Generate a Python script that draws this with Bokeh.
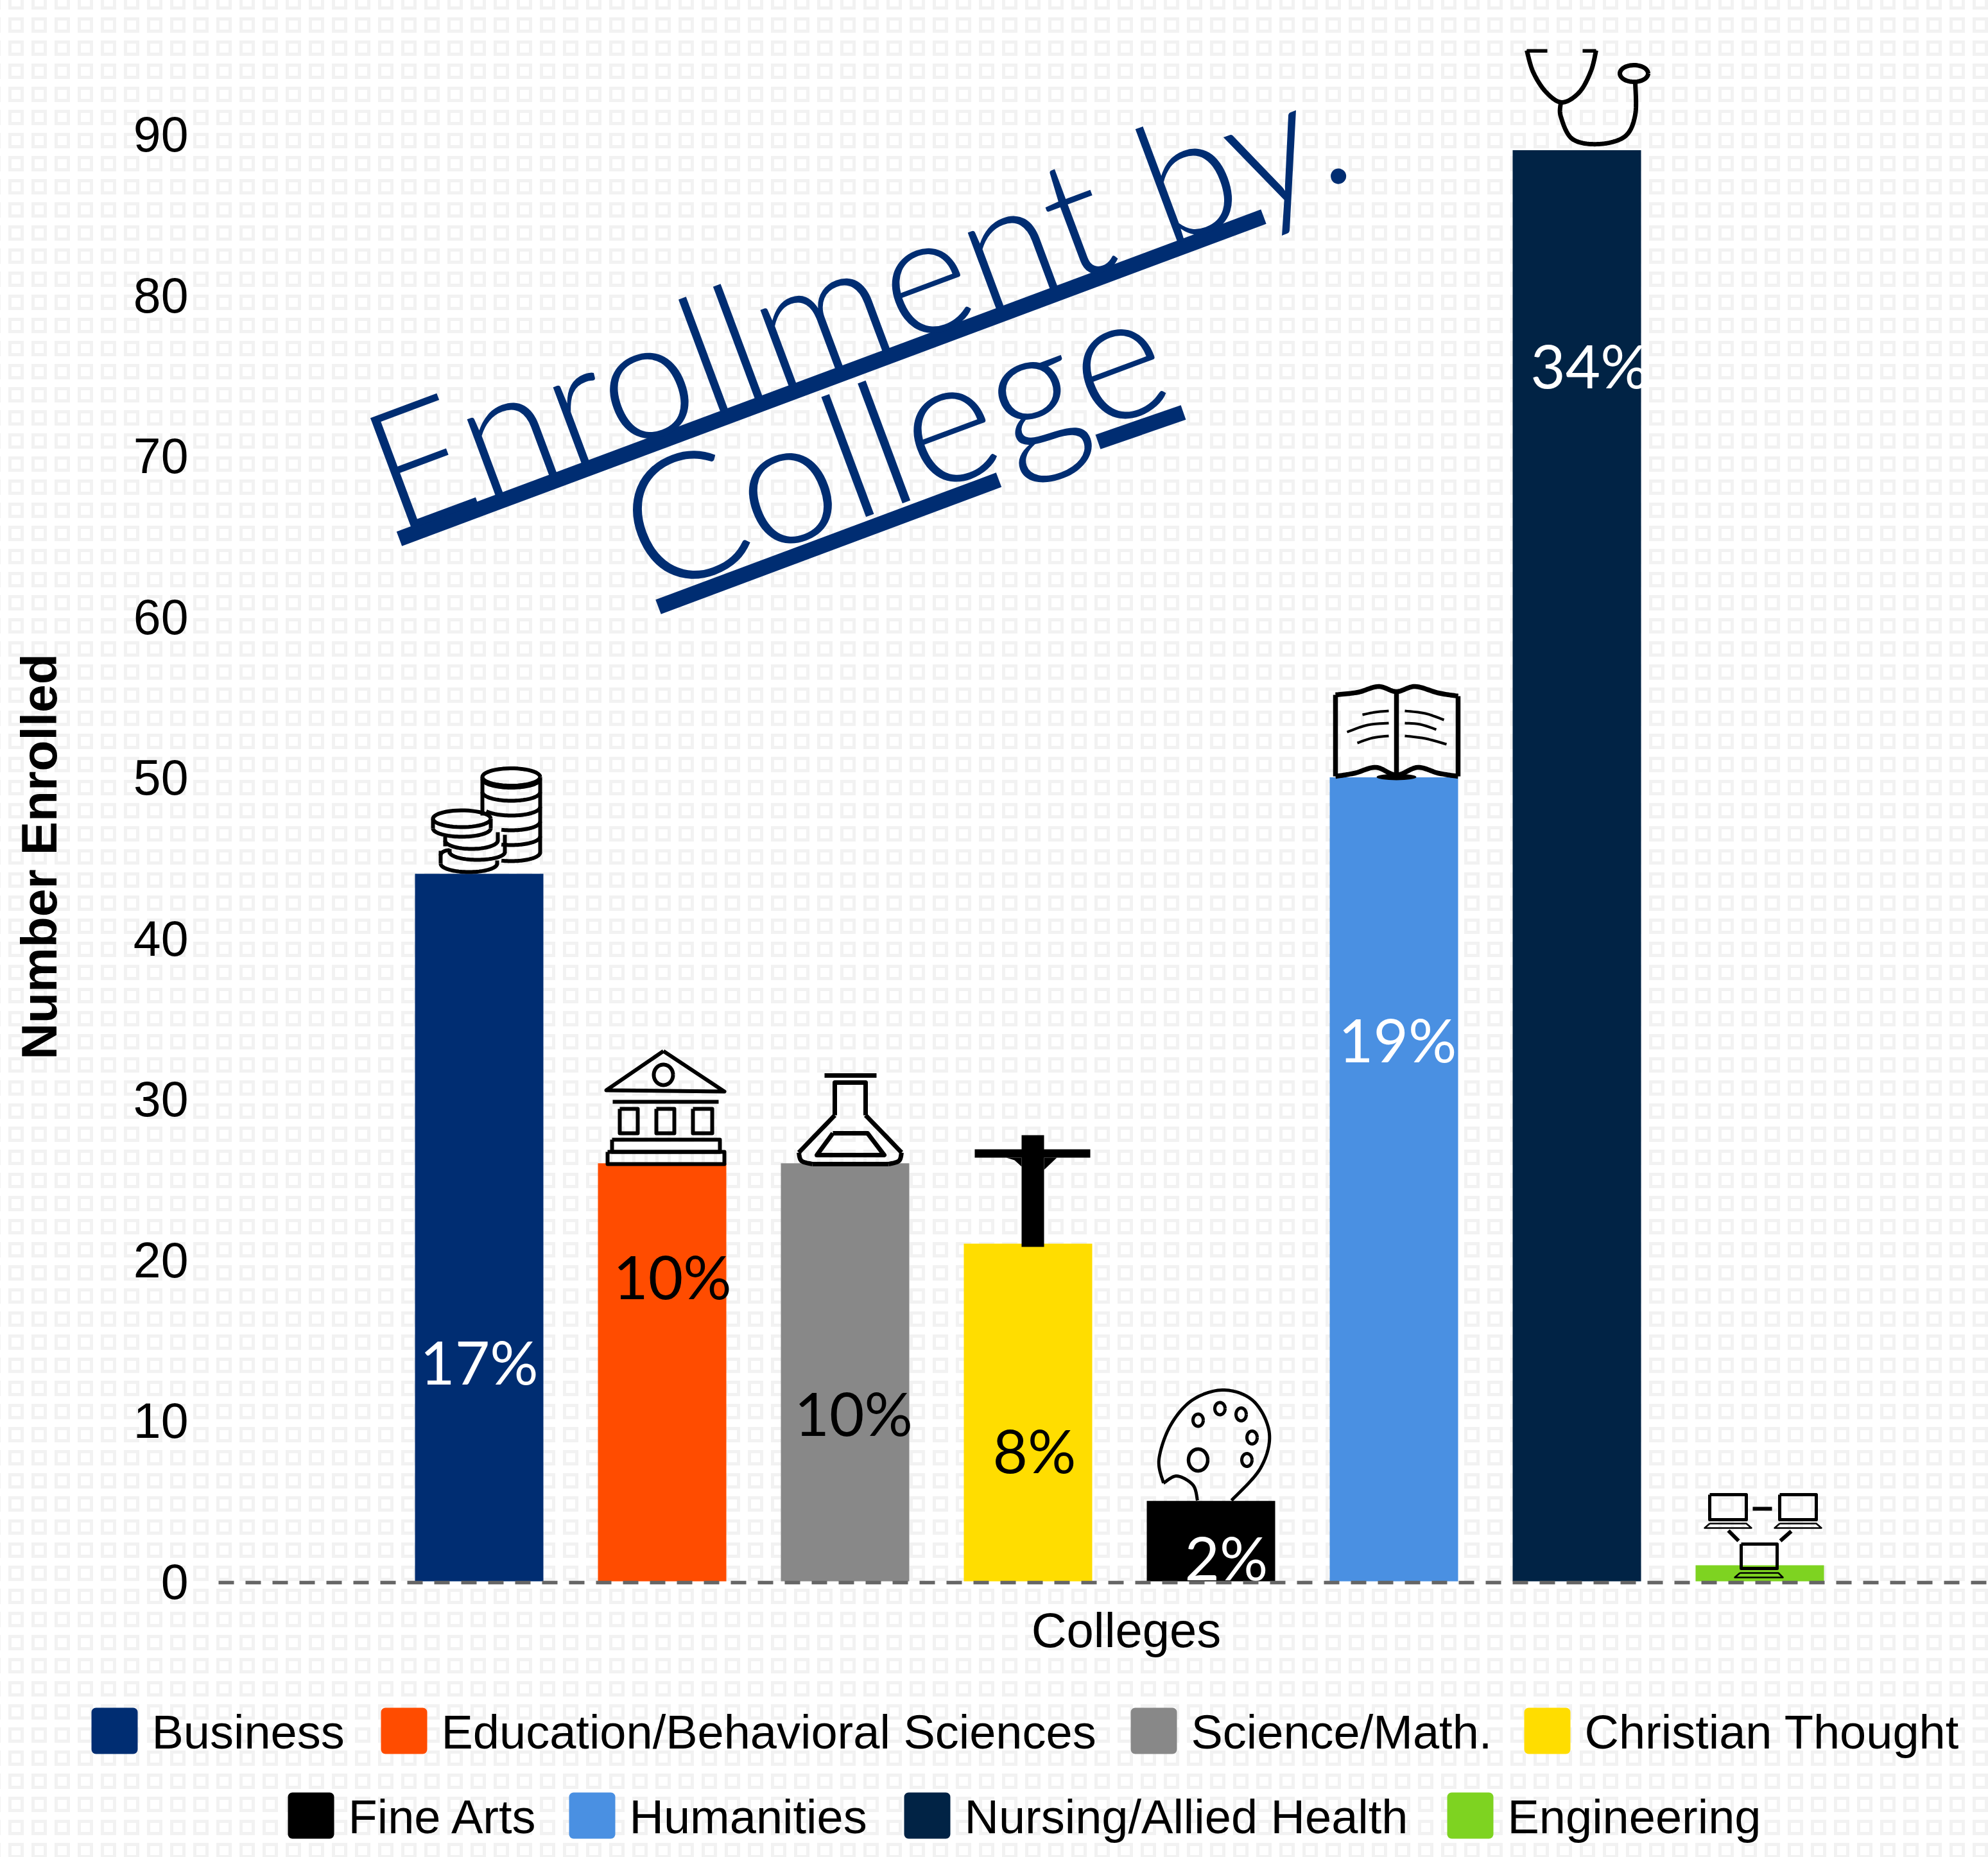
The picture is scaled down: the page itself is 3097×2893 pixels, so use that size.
import numpy as np
from bokeh.plotting import figure
from bokeh.embed import file_html
from bokeh.resources import INLINE
from bokeh.core.properties import value
from bokeh.models import Range1d, FixedTicker, Label

# ---- data -----------------------------------------------------------
colleges = ["Business", "Education/Behavioral Sciences", "Science/Math.", "Christian Thought",
            "Fine Arts", "Humanities", "Nursing/Allied Health", "Engineering"]
enrolled = [44, 26, 26, 21, 5, 50, 89, 1]
colors = ["#002D72", "#FF4C00", "#888888", "#FFDD00", "#000000", "#4A90E2", "#012345", "#7ED321"]
percent_labels = ["17%", "10%", "10%", "8%", "2%", "19%", "34%"]
percent_colors = ["white", "black", "black", "black", "white", "white", "white"]
percent_heights = [13.7, 19.0, 10.5, 8.2, 1.5, 33.75, 75.65]
percent_x = [0.0, 1.056, 2.046, 3.035, 4.084, 5.02, 6.07]
y_ticks = [0, 10, 20, 30, 40, 50, 60, 70, 80, 90]
title_lines = ["Enrollment by.", "College"]
x_title = "Colleges"
y_title = "Number Enrolled"
legend_swatch_left = [142, 593, 1761, 2374, 448, 886, 1408, 2254]
legend_swatch_bottom = [2732, 2732, 2732, 2732, 2864, 2864, 2864, 2864]

W, H = 3097, 2893
F_L, F_R, F_T, F_B = 340, W, 76, 2465   # plot frame in page pixels
BAR0, STEP, BW = 746, 285, 200
PXU = 25.05
Y0 = 2463
BLUE = "#002D72"
FONT_T = "Lato Light"

p = figure(width=W, height=H, output_backend="svg", toolbar_location=None,
           x_range=Range1d((F_L - BAR0) / STEP, (F_R - BAR0) / STEP),
           y_range=Range1d((Y0 - F_B) / PXU, (Y0 - F_T) / PXU),
           min_border_left=F_L, min_border_right=0,
           min_border_top=F_T, min_border_bottom=H - F_B)
p.extra_x_ranges["px"] = Range1d(F_L, F_R)
p.extra_y_ranges["px"] = Range1d(F_B, F_T)
p.border_fill_color = None
p.background_fill_color = None
p.outline_line_color = None
p.xgrid.visible = False
p.ygrid.visible = False

ax = p.xaxis[0]
ax.ticker = FixedTicker(ticks=[])
ax.major_label_text_font_size = "0px"
ax.major_tick_line_color = None
ax.minor_tick_line_color = None
ax.axis_line_color = "#666666"
ax.axis_line_width = 5.5
ax.axis_line_dash = "24 18"

ay = p.yaxis[0]
ay.ticker = FixedTicker(ticks=y_ticks)
ay.axis_line_color = None
ay.major_tick_line_color = None
ay.minor_tick_line_color = None
ay.major_label_standoff = 41
ay.major_label_text_font = "Liberation Sans"
ay.major_label_text_font_size = "77px"
ay.major_label_text_color = "black"

# ---- bars -----------------------------------------------------------
for i, (v, c) in enumerate(zip(enrolled, colors)):
    p.vbar(x=[i], top=[v], bottom=0, width=BW / STEP, fill_color=c, line_color=None)

# ---- icons (decorative line art, drawn in page pixels) ----------------
PX = dict(x_range_name="px", y_range_name="px")

def arc(cx, cy, rx, ry, a0=0, a1=360):
    t = np.radians(np.linspace(a0, a1, 48))
    return list(cx + rx * np.cos(t)), list(cy + ry * np.sin(t))

def smooth(pts, n=14):
    P = np.array([pts[0]] + list(pts) + [pts[-1]], dtype=float)
    out = []
    for k in range(1, len(P) - 2):
        for t in np.linspace(0, 1, n, endpoint=False):
            out.append(0.5 * ((2 * P[k]) + (-P[k-1] + P[k+1]) * t
                              + (2*P[k-1] - 5*P[k] + 4*P[k+1] - P[k+2]) * t*t
                              + (-P[k-1] + 3*P[k] - 3*P[k+1] + P[k+2]) * t*t*t))
    out.append(P[-2])
    out = np.array(out)
    return list(out[:, 0]), list(out[:, 1])

def poly(pts, close=False):
    pts = list(pts) + ([pts[0]] if close else [])
    return [a for a, _ in pts], [b for _, b in pts]

def box(x0, y0, x1, y1):
    return poly([(x0, y0), (x1, y0), (x1, y1), (x0, y1)], close=True)

def draw(paths, width):
    p.multi_line([a for a, _ in paths], [b for _, b in paths], line_color="black",
                 line_width=width, line_join="round", **PX)

def fill(paths):
    p.patches([a for a, _ in paths], [b for _, b in paths], fill_color="black", line_color=None, **PX)

# coins
coins = [arc(796, 1210, 45, 13.5)]
coins += [poly([(751, 1210), (751, 1270)]), poly([(841, 1210), (841, 1328)])]
for b, end in [(1226.5, 180), (1247, 180), (1270, 150), (1293, 110), (1316, 110), (1341, 110)]:
    coins.append(arc(796, b - 13.5, 45, 13.5, 0, end))
coins.append(arc(719, 1275, 45, 13))
coins += [poly([(674, 1275), (674, 1290)]), poly([(764, 1275), (764, 1290)])]
coins.append(arc(719, 1290, 45, 13, 0, 180))
coins += [poly([(693, 1303), (693, 1318)]), poly([(775, 1296), (775, 1310)])]
coins.append(arc(734, 1309, 41, 13, 0, 180))
coins += [poly([(700, 1322), (700, 1330)]), poly([(786, 1300), (786, 1328)])]
coins.append(arc(743, 1327, 43, 12, 0, 180))
coins += [poly([(686, 1325), (686, 1345)]), poly([(774, 1340), (774, 1346)])]
coins.append(arc(730, 1345, 44, 13, 0, 180))
coins.append(arc(700, 1332, 14, 8, 180, 270))
draw(coins, 6)

# building
bld = [poly([(1033, 1637), (1128, 1700), (944, 1698)], close=True),
       arc(1033, 1674, 15, 16),
       poly([(954, 1716), (1119, 1716)]),
       box(965, 1727, 993, 1765), box(1022, 1727, 1050, 1765), box(1079, 1727, 1109, 1765),
       box(953, 1775, 1121, 1794), box(946, 1794, 1128, 1813)]
draw(bld, 6)

# flask
fl = [poly([(1284, 1675), (1365, 1675)]),
      poly([(1300, 1737), (1300, 1686), (1348, 1686), (1348, 1737)]),
      smooth([(1300, 1737), (1268, 1770), (1244, 1795)], 6),
      smooth([(1348, 1737), (1380, 1770), (1404, 1795)], 6),
      smooth([(1244, 1795), (1248, 1808), (1265, 1813)], 6),
      smooth([(1404, 1795), (1400, 1808), (1384, 1813)], 6),
      poly([(1265, 1813), (1384, 1813)]),
      poly([(1297, 1765), (1351, 1765), (1377, 1799), (1272, 1799)], close=True)]
draw(fl, 7)

# crucifix
fill([box(1591, 1768, 1626, 1942), box(1518, 1790, 1698, 1803),
      poly([(1567, 1803), (1580, 1807), (1591, 1817), (1591, 1803)], close=True),
      poly([(1646, 1803), (1626, 1822), (1626, 1803)], close=True)])

# palette
pal_out = [smooth([(1865, 2337), (1858, 2313), (1833, 2299), (1812, 2310)]),
           smooth([(1812, 2310), (1805, 2273), (1823, 2220), (1858, 2180), (1907, 2165),
                   (1953, 2183), (1977, 2233), (1963, 2287), (1918, 2337)])]
draw(pal_out, 5)
draw([arc(1866, 2274, 15, 17)], 5.5)
draw([arc(1866, 2212, 8, 9.5), arc(1900, 2194, 8, 9.5), arc(1933, 2203, 8, 10),
      arc(1950, 2239, 8, 10), arc(1942, 2274, 8, 10)], 5)

# book
book = [smooth([(2080, 1082), (2115, 1078), (2147, 1069), (2175, 1077), (2204, 1069), (2240, 1079), (2271, 1084)]),
        smooth([(2080, 1209), (2110, 1204), (2143, 1195), (2175, 1207), (2208, 1195), (2240, 1204), (2271, 1209)]),
        poly([(2080, 1082), (2080, 1209)]), poly([(2271, 1084), (2271, 1209)]),
        poly([(2175, 1077), (2175, 1207)])]
draw(book, 7.5)
draw([smooth([(2122, 1113), (2142, 1109), (2163, 1107)], 6), smooth([(2098, 1140), (2130, 1129), (2163, 1126)], 6),
      smooth([(2114, 1157), (2138, 1149), (2163, 1146)], 6), smooth([(2188, 1107), (2220, 1111), (2249, 1121)], 6),
      smooth([(2188, 1126), (2212, 1128), (2237, 1136)], 6), smooth([(2188, 1146), (2220, 1150), (2253, 1159)], 6)], 4)
p.ellipse([2175], [1210], width=62, height=10, fill_color="black", line_color=None, **PX)

# stethoscope
st = [poly([(2378, 78), (2410, 78)]), poly([(2465, 78), (2486, 78)]),
      smooth([(2378, 78), (2388, 112), (2408, 143), (2433, 159), (2460, 143), (2478, 110), (2486, 78)]),
      smooth([(2431, 159), (2431, 181), (2449, 216), (2490, 224), (2531, 212), (2547, 178), (2547, 128)]),
      arc(2545, 114, 22, 13)]
draw(st, 7)

# laptops
lap = [box(2663, 2328, 2720, 2367), box(2772, 2328, 2829, 2367), box(2712, 2405, 2768, 2443)]
draw(lap, 5)
draw([poly([(2663, 2373), (2720, 2373), (2728, 2380), (2655, 2380)], close=True),
      poly([(2772, 2373), (2829, 2373), (2837, 2380), (2764, 2380)], close=True),
      poly([(2710, 2450), (2770, 2450), (2777, 2457), (2702, 2457)], close=True)], 2.5)
draw([poly([(2730, 2350), (2760, 2350)]), poly([(2692, 2384), (2708, 2400)]),
      poly([(2790, 2385), (2773, 2400)])], 6)

# ---- percent labels --------------------------------------------------
p.text(x=percent_x, y=percent_heights, text=percent_labels, text_font=value("Lato"),
       text_font_size="94px", text_color=percent_colors, text_align="center", text_baseline="middle")

# ---- rotated, underlined title ----------------------------------------
ANG = np.radians(20.45)
for txt, xt, yt, fs in zip(title_lines, [580, 975], [738, 831], ["260px", "274px"]):
    p.add_layout(Label(x=xt, y=yt, text=txt, angle=ANG, text_font=FONT_T, text_color=BLUE,
                       text_font_size=fs, text_baseline="alphabetic", text_align="left", **PX))
p.multi_line([[621.5, 1968], [1025, 1555.5], [1710, 1843]], [[839, 337], [945, 747], [688, 642]],
             line_color=BLUE, line_width=24, line_cap="butt", **PX)

# ---- page-wide overlay for the texts and swatches outside the frame -----
q = figure(width=W, height=H, output_backend="svg", toolbar_location=None,
           x_range=Range1d(0, W), y_range=Range1d(H, 0),
           x_axis_location=None, y_axis_location=None,
           min_border=0, min_border_left=0, min_border_right=0, min_border_top=0, min_border_bottom=0)
q.border_fill_color = None
q.background_fill_color = None
q.outline_line_color = None
q.xgrid.visible = False
q.ygrid.visible = False
q.styles = {"position": "absolute", "left": "0px", "top": "0px"}

q.add_layout(Label(x=1754, y=2539, text=x_title, text_font="Liberation Sans", text_font_size="76px",
                   text_align="center", text_baseline="alphabetic", text_color="black"))
q.add_layout(Label(x=60, y=1334, text=y_title, text_font="Liberation Sans", text_font_size="78.5px",
                   text_font_style="bold", angle=90, angle_units="deg", text_align="center",
                   text_baseline="alphabetic", text_color="black"))
for name, c, sx, sb in zip(colleges, colors, legend_swatch_left, legend_swatch_bottom):
    q.quad(left=[sx], right=[sx + 72], top=[sb - 72], bottom=[sb], fill_color=c, line_color=None,
           border_radius=7)
    q.add_layout(Label(x=sx + 72 + 22, y=sb - 34, text=name, text_font="Liberation Sans",
                       text_font_size="74px", text_align="left", text_baseline="alphabetic",
                       text_color="black"))

# ---- page: faint tile pattern behind the transparent plots ---------------
tile = ("data:image/svg+xml,%3Csvg xmlns='http://www.w3.org/2000/svg' width='36' height='36'%3E"
        "%3Crect x='2.5' y='2.5' width='19' height='19' fill='none' stroke='%23f2f2f2' stroke-width='5'/%3E%3C/svg%3E")
css = '<style>html{background:#fff url("%s") 13px 27px repeat;overflow:hidden;}</style>' % tile
html = file_html([p, q], INLINE, title="Enrollment by College").replace("</head>", css + "</head>", 1)
open("out.html", "w").write(html)
